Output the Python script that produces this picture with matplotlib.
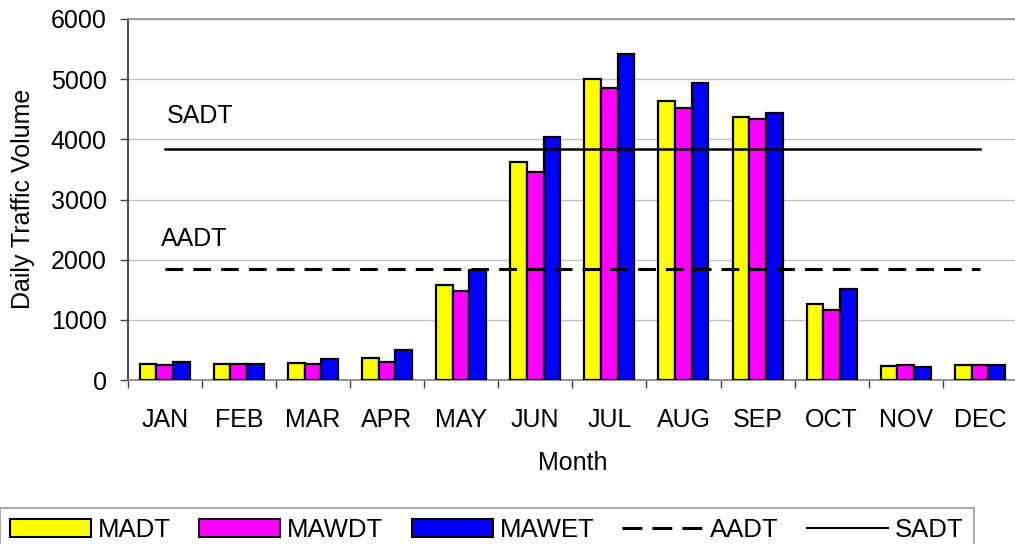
import matplotlib
matplotlib.use("Agg")
import matplotlib.pyplot as plt
import numpy as np
from matplotlib.lines import Line2D
from matplotlib.patches import Patch

months = ["JAN", "FEB", "MAR", "APR", "MAY", "JUN", "JUL", "AUG", "SEP", "OCT", "NOV", "DEC"]
madt = [271, 271, 288, 371, 1573, 3627, 5000, 4640, 4374, 1262, 238, 243]
mawdt = [255, 266, 271, 304, 1473, 3461, 4845, 4524, 4341, 1163, 249, 243]
mawet = [304, 266, 349, 504, 1827, 4043, 5410, 4939, 4441, 1517, 216, 243]
aadt = 1840
sadt = 3845

plt.rcParams['font.family'] = ['Liberation Sans', 'DejaVu Sans']
FS = 18

fig = plt.figure(figsize=(10.15, 5.44), dpi=100)
ax = fig.add_axes([127.6 / 1015, 1 - 380 / 544, (1017 - 127.6) / 1015, (380 - 19) / 544])

x = np.arange(len(months))
w = 0.225
ax.bar(x - w, madt, w, color="#ffff00", edgecolor="black", linewidth=1.6, zorder=3)
ax.bar(x, mawdt, w, color="#ff00ff", edgecolor="black", linewidth=1.6, zorder=3)
ax.bar(x + w, mawet, w, color="#0000ff", edgecolor="black", linewidth=1.6, zorder=3)

ax.plot([x[0], x[-1]], [aadt, aadt], color="black", linestyle=(0, (5.8, 3.3)), linewidth=2.2, zorder=4)
ax.plot([x[0], x[-1]], [sadt, sadt], color="black", linestyle="-", linewidth=1.8, zorder=4)

ax.text(0.03, 4271, "SADT", fontsize=FS, va="baseline", ha="left")
ax.text(-0.05, 2227, "AADT", fontsize=FS, va="baseline", ha="left")

ax.set_xlim(-0.5, 11.5)
ax.set_ylim(0, 6000)
ax.set_yticks(np.arange(0, 6001, 1000))
ax.set_yticklabels([str(v) for v in range(0, 6001, 1000)], fontsize=FS)
ax.yaxis.grid(True, color="#c0c0c0", linewidth=1.0, zorder=0)
ax.set_axisbelow(True)

ax.set_xticks(x)
ax.set_xticklabels(months, fontsize=FS)
ax.set_xticks(np.arange(-0.5, 12.0, 1.0), minor=True)
ax.tick_params(axis="x", which="major", length=0, pad=20)
ax.tick_params(axis="x", which="minor", length=6, width=1.0, color="#404040")
ax.tick_params(axis="y", which="major", length=6, width=1.0, color="#404040", pad=9)

ax.spines["right"].set_visible(False)
ax.spines["top"].set_color("#909090")
ax.spines["top"].set_linewidth(1.2)
ax.spines["left"].set_color("#505050")
ax.spines["left"].set_linewidth(1.5)
ax.spines["bottom"].set_color("#808080")
ax.spines["bottom"].set_linewidth(1.2)

fig.text(573 / 1015, 1 - 470 / 544, "Month", fontsize=FS, ha="center", va="baseline")
fig.text(23 / 1015, 1 - 199 / 544, "Daily Traffic Volume", fontsize=FS, ha="center", va="center",
         rotation=90)

handles = [
    Patch(facecolor="#ffff00", edgecolor="black", linewidth=1.5),
    Patch(facecolor="#ff00ff", edgecolor="black", linewidth=1.5),
    Patch(facecolor="#0000ff", edgecolor="black", linewidth=1.5),
    Line2D([], [], color="black", linestyle=(0, (6.5, 3.3)), linewidth=2.2),
    Line2D([], [], color="black", linestyle="-", linewidth=1.5),
]
labels = ["MADT", "MAWDT", "MAWET", "AADT", "SADT"]
leg = fig.legend(handles, labels, loc="upper right", bbox_to_anchor=(974 / 1015, 1 - 508 / 544),
                 ncol=5, frameon=True, fancybox=False, edgecolor="#808080",
                 prop={"size": 18.5},
                 handlelength=3.15, handleheight=0.7, handletextpad=0.27, columnspacing=1.1,
                 borderpad=0.4, borderaxespad=0)
leg.get_frame().set_linewidth(1.2)

fig.savefig("out.png", dpi=100)
